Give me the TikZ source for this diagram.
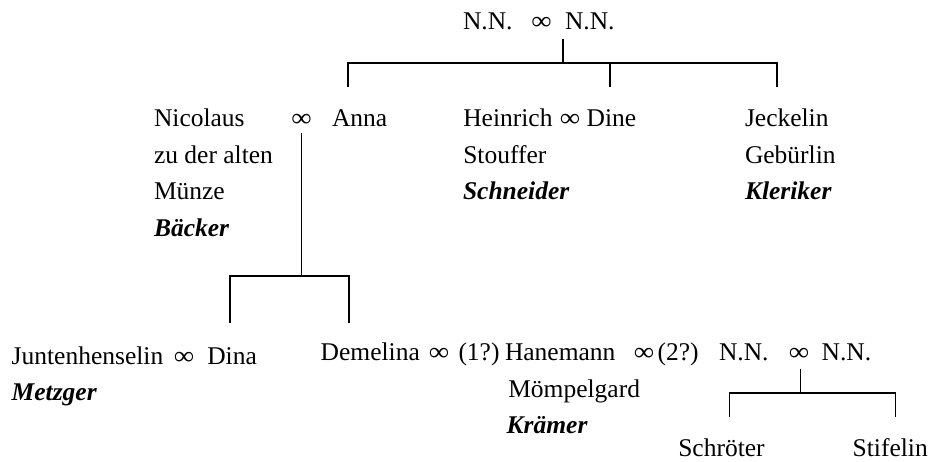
\documentclass[tikz,border=0pt]{standalone}
\usepackage{fontspec}
\setmainfont{Liberation Serif}
\begin{document}
\begin{tikzpicture}[x=1pt,y=-1pt,
  txt/.style={anchor=base west,inner sep=0pt,outer sep=0pt,font=\fontsize{25.5}{30}\selectfont},
  occ/.style={txt,font=\fontsize{25.5}{30}\selectfont\bfseries\itshape},
  mar/.style={anchor=base,inner sep=0pt,outer sep=0pt,font=\fontsize{25.5}{30}\selectfont},
  link/.style={draw=black,line width=1.2pt}]
\newcommand{\marsym}{\scalebox{1.12}[1.0]{∞}}
\useasboundingbox (0,0) rectangle (931,461);
% top couple
\node[txt] (nn1) at (463,29.5) {N.N.};
\node[mar] (m0) at (541.5,29.5) {\marsym};
\node[txt] (nn2) at (565,29.5) {N.N.};
% generation 1
\node[txt] (nic1) at (154,126.5) {Nicolaus};
\node[txt] (nic2) at (154,163.2) {zu der alten};
\node[txt] (nic3) at (154,199.9) {Münze};
\node[occ] (nic4) at (154,236.6) {Bäcker};
\node[mar] (m1) at (301.5,126.5) {\marsym};
\node[txt] (anna) at (332,126.5) {Anna};
\node[txt] (hein1) at (463.3,126.5) {Heinrich};
\node[mar] (m2) at (570,126.5) {\marsym};
\node[txt] (dine) at (586.7,126.5) {Dine};
\node[txt] (hein2) at (463.3,163.2) {Stouffer};
\node[occ] (hein3) at (463,199.9) {Schneider};
\node[txt] (jeck1) at (745,126.5) {Jeckelin};
\node[txt] (jeck2) at (745,163.2) {Gebürlin};
\node[occ] (jeck3) at (745,199.9) {Kleriker};
% generation 2
\node[txt] (junt1) at (11.7,364) {Juntenhenselin};
\node[mar] (m3) at (184,364) {\marsym};
\node[txt] (dina) at (207.3,364) {Dina};
\node[occ] (junt2) at (11.7,400) {Metzger};
\node[txt] (deme) at (320.7,360.5) {Demelina};
\node[mar] (m4) at (439,360.5) {\marsym};
\node[txt] (q1) at (458.5,360.5) {(1?)};
\node[txt] (hane1) at (505,360.5) {Hanemann};
\node[txt] (hane2) at (508.3,397) {Mömpelgard};
\node[occ] (hane3) at (506.7,433.5) {Krämer};
\node[mar] (m5) at (644,360.5) {\marsym};
\node[txt] (q2) at (657.5,360.5) {(2?)};
\node[txt] (nn3) at (719,360.5) {N.N.};
\node[mar] (m6) at (799,360.5) {\marsym};
\node[txt] (nn4) at (821.7,360.5) {N.N.};
% generation 3
\node[txt] (schr) at (678.3,456) {Schröter};
\node[txt] (stif) at (852.7,456) {Stifelin};
% connector points
\coordinate (j0) at (563,39);
\coordinate (b0) at (563,63);
\coordinate (c01) at (348,87);
\coordinate (c02) at (610,87);
\coordinate (c03) at (777,87);
\coordinate (j1) at (301.7,133);
\coordinate (b1) at (301.7,276);
\coordinate (c11) at (230,323);
\coordinate (c12) at (349,323);
\coordinate (j2) at (800.7,369);
\coordinate (b2) at (800.7,393);
\coordinate (c21) at (729.3,416.7);
\coordinate (c22) at (895.7,416.7);
% connectors
\draw[link] (j0) -- (b0);
\draw[link] (c01) |- (b0) -| (c03);
\draw[link] (c02) -- (c02 |- b0);
\draw[link] (j1) -- (b1);
\draw[link] (c11) |- (b1) -| (c12);
\draw[link] (j2) -- (b2);
\draw[link] (c21) |- (b2) -| (c22);
\end{tikzpicture}
\end{document}
